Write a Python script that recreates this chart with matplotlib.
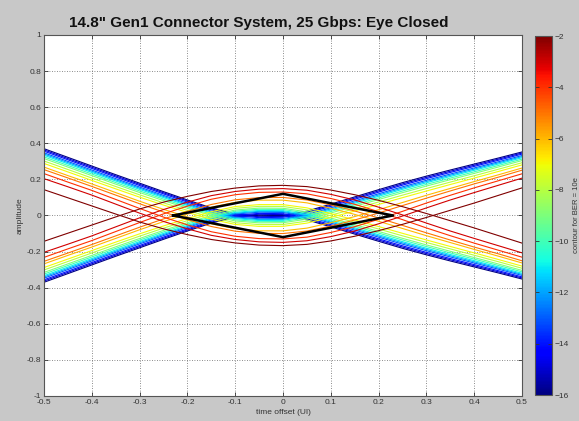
import numpy as np
import matplotlib
matplotlib.use("Agg")
import matplotlib.pyplot as plt
from matplotlib import colors, cm

# Sample instants across one unit interval
time_ui = [-0.50, -0.45, -0.40, -0.35, -0.30, -0.25, -0.20, -0.15, -0.10, -0.05,
           0.00, 0.05, 0.10, 0.15, 0.20, 0.25, 0.30, 0.35, 0.40, 0.45, 0.50]

# Contours of the upper data path (amplitude at each instant), one per BER exponent
contour_1e2 = [-0.143, -0.098, -0.053, -0.008, 0.036, 0.074, 0.106, 0.133, 0.152, 0.164,
               0.167, 0.160, 0.141, 0.115, 0.084, 0.049, 0.011, -0.029, -0.069, -0.111, -0.153]
contour_1e3 = [-0.204, -0.159, -0.113, -0.063, -0.013, 0.033, 0.074, 0.110, 0.133, 0.146,
               0.149, 0.140, 0.117, 0.086, 0.046, 0.003, -0.042, -0.086, -0.127, -0.167, -0.207]
contour_1e4 = [-0.232, -0.185, -0.139, -0.089, -0.039, 0.009, 0.052, 0.090, 0.115, 0.128,
               0.130, 0.120, 0.094, 0.062, 0.021, -0.023, -0.069, -0.112, -0.153, -0.192, -0.231]
contour_1e5 = [-0.254, -0.208, -0.161, -0.113, -0.065, -0.019, 0.023, 0.061, 0.087, 0.099,
               0.100, 0.086, 0.059, 0.025, -0.014, -0.055, -0.096, -0.136, -0.175, -0.212, -0.251]
contour_1e6 = [-0.268, -0.221, -0.175, -0.127, -0.079, -0.034, 0.008, 0.046, 0.073, 0.085,
               0.085, 0.070, 0.040, 0.006, -0.032, -0.072, -0.112, -0.150, -0.188, -0.225, -0.263]
contour_1e16 = [-0.370, -0.322, -0.274, -0.226, -0.179, -0.132, -0.086, -0.042, -0.008, 0.002,
                0.000, -0.024, -0.063, -0.103, -0.143, -0.182, -0.218, -0.252, -0.285, -0.318, -0.352]

# Dense band of deep-tail contours: position between the 1e-2 (0) and 1e-16 (1) contours
band_levels = [-16, -15, -14, -13, -12, -11, -10, -9, -8, -7]
band_fraction = [1.00, 0.97, 0.94, 0.90, 0.87, 0.84, 0.80, 0.76, 0.70, 0.64]

# Eye mask vertices
mask_time = [-0.23, 0.0, 0.23, 0.0, -0.23]
mask_amp = [0.0, 0.12, 0.0, -0.12, 0.0]

cbar_ticks = [-16, -14, -12, -10, -8, -6, -4, -2]
x_ticks = [-0.5, -0.4, -0.3, -0.2, -0.1, 0, 0.1, 0.2, 0.3, 0.4, 0.5]
y_ticks = [-1, -0.8, -0.6, -0.4, -0.2, 0, 0.2, 0.4, 0.6, 0.8, 1]

t = np.array(time_ui)
c2 = np.array(contour_1e2)
c16 = np.array(contour_1e16)

contours = []
for level, frac in zip(band_levels, band_fraction):
    contours.append((level, c2 + frac * (c16 - c2)))
contours += [(-6, np.array(contour_1e6)), (-5, np.array(contour_1e5)),
             (-4, np.array(contour_1e4)), (-3, np.array(contour_1e3)), (-2, c2)]

plt.rcParams["font.family"] = ["Liberation Sans", "DejaVu Sans"]
fig = plt.figure(figsize=(5.79, 4.21), dpi=100, facecolor="#c8c8c8")
ax = fig.add_axes([0.076, 0.0594, 0.8256, 0.8575])
ax.set_facecolor("white")

norm = colors.Normalize(vmin=-16, vmax=-2)
cmap = plt.get_cmap("jet")

# Upper data path contours and their mirror image for the lower path
for level, amp in contours:
    col = cmap(norm(level))
    ax.plot(t, amp, color=col, lw=0.8, solid_joinstyle="round")
    ax.plot(t, -amp, color=col, lw=0.8, solid_joinstyle="round")

ax.plot(mask_time, mask_amp, color="black", lw=1.8, zorder=5)

ax.set_xlim(-0.5, 0.5)
ax.set_ylim(-1, 1)
ax.set_xticks(x_ticks)
ax.set_yticks(y_ticks)
ax.set_xticklabels([f"{v:g}" for v in x_ticks])
ax.set_yticklabels([f"{v:g}" for v in y_ticks])
ax.grid(True, color="#666666", linestyle=(0, (1, 2)), linewidth=0.6)
ax.tick_params(direction="in", length=3, width=0.6, labelsize=6, colors="#333333",
               top=True, right=True, pad=2)
for s in ax.spines.values():
    s.set_color("#555555")
    s.set_linewidth(0.8)

ax.set_xlabel("time offset (UI)", fontsize=6, color="#333333", labelpad=2)
ax.set_ylabel("amplitude", fontsize=6, color="#333333", labelpad=2)
ax.set_title('14.8" Gen1 Connector System, 25 Gbps: Eye Closed', x=0.45,
             fontsize=11, fontweight="bold", color="#111111", pad=6)

cax = fig.add_axes([0.924, 0.0617, 0.029, 0.8527])
sm = cm.ScalarMappable(norm=norm, cmap=cmap)
cb = fig.colorbar(sm, cax=cax, ticks=cbar_ticks)
cb.ax.tick_params(direction="in", length=3, width=0.6, labelsize=6, colors="#333333",
                  left=True, right=True, pad=2)
cb.outline.set_edgecolor("#555555")
cb.outline.set_linewidth(0.8)
cb.set_label("contour for BER = 10e", fontsize=5.5, color="#333333", labelpad=3)

fig.savefig("out.png", dpi=100, facecolor=fig.get_facecolor())
